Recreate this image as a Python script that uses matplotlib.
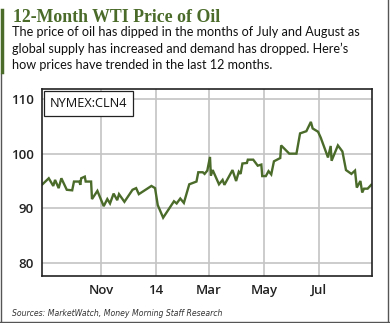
import matplotlib
matplotlib.use("Agg")
from matplotlib import pyplot as plt
import matplotlib.dates as mdates
import pandas as pd

# WTI front-month price
dates = ["2013-08-28", "2013-09-04", "2013-09-09", "2013-09-11", "2013-09-15",
         "2013-09-18", "2013-09-24", "2013-09-30", "2013-10-02", "2013-10-08",
         "2013-10-09", "2013-10-10", "2013-10-14", "2013-10-15", "2013-10-21",
         "2013-10-22", "2013-10-28", "2013-11-04", "2013-11-08", "2013-11-11",
         "2013-11-15", "2013-11-19", "2013-11-21", "2013-11-27", "2013-12-06",
         "2013-12-10", "2013-12-13", "2013-12-27", "2013-12-31", "2014-01-03",
         "2014-01-09", "2014-01-21", "2014-01-24", "2014-01-28", "2014-02-01",
         "2014-02-07", "2014-02-15", "2014-02-17", "2014-02-22", "2014-02-24",
         "2014-02-27", "2014-03-02", "2014-03-03", "2014-03-05", "2014-03-12",
         "2014-03-16", "2014-03-18", "2014-03-27", "2014-03-31", "2014-04-03",
         "2014-04-05", "2014-04-07", "2014-04-12", "2014-04-13", "2014-04-19",
         "2014-04-24", "2014-04-28", "2014-04-29", "2014-05-03", "2014-05-06",
         "2014-05-09", "2014-05-12", "2014-05-19", "2014-05-20", "2014-05-29",
         "2014-06-06", "2014-06-10", "2014-06-17", "2014-06-22", "2014-06-24",
         "2014-06-30", "2014-07-03", "2014-07-11", "2014-07-14", "2014-07-15",
         "2014-07-22", "2014-07-27", "2014-07-31", "2014-08-06", "2014-08-10",
         "2014-08-12", "2014-08-16", "2014-08-18", "2014-08-20", "2014-08-24",
         "2014-08-28"]
prices = [94.4, 95.5, 94.1, 95.2, 93.7,
          95.5, 93.4, 93.3, 94.9, 94.9,
          94.3, 95.5, 95.8, 94.9, 94.9,
          91.7, 93.2, 90.4, 91.7, 90.9,
          92.7, 91.5, 92.6, 91.2, 93.4,
          93.7, 92.6, 94.1, 93.7, 90.6,
          88.3, 91.3, 90.9, 91.8, 91.0,
          94.4, 94.9, 96.6, 96.6, 96.3,
          96.9, 99.4, 96.0, 97.0, 94.4,
          95.2, 94.3, 97.0, 95.0, 96.7,
          96.3, 98.2, 98.3, 98.9, 98.9,
          97.8, 98.0, 95.9, 95.9, 96.8,
          96.2, 98.6, 99.2, 101.5, 100.0,
          100.0, 103.7, 104.1, 105.8, 104.6,
          104.0, 102.9, 99.3, 101.4, 98.7,
          101.5, 100.4, 97.0, 96.3, 96.9,
          93.8, 95.0, 92.9, 93.6, 93.6,
          94.3]

title = "12-Month WTI Price of Oil"
subtitle = ("The price of oil has dipped in the months of July and August as\n"
            "global supply has increased and demand has dropped. Here\u2019s\n"
            "how prices have trended in the last 12 months.")
source = "Sources: MarketWatch, Money Morning Staff Research"
green = "#4a6b2a"

fig = plt.figure(figsize=(3.9, 3.23), dpi=100)
fig.patch.set_facecolor("white")

# outer frame and green accent bar
fig.add_artist(plt.Line2D([0.002, 0.002], [0.0, 0.77], transform=fig.transFigure, color="#555555", lw=1))
fig.add_artist(plt.Line2D([0.995, 0.995], [0.0, 1.0], transform=fig.transFigure, color="#555555", lw=1))
fig.add_artist(plt.Line2D([0.0, 1.0], [0.003, 0.003], transform=fig.transFigure, color="#555555", lw=1))
fig.add_artist(plt.Line2D([0.004, 0.004], [0.777, 0.969], transform=fig.transFigure, color=green, lw=2.5))

fig.text(0.034, 0.947, title, fontsize=12.8, fontweight="bold", color=green,
         family="Liberation Serif", va="center", ha="left")
fig.text(0.031, 0.918, subtitle, fontsize=9.1, color="#111111", family="Lato",
         va="top", ha="left", linespacing=1.38)
fig.text(0.031, 0.03, source, fontsize=5.6, style="italic", color="#333333",
         family="DejaVu Sans", va="center", ha="left")

ax = fig.add_axes([0.1077, 0.1464, 0.8453, 0.5796])
x = pd.to_datetime(dates)
ax.plot(x, prices, color=green, lw=1.7, solid_joinstyle="miter")

ax.set_xlim(pd.Timestamp("2013-08-27 12:00"), pd.Timestamp("2014-08-28 12:00"))
ax.set_ylim(77.7, 111.9)
ax.set_yticks([80, 90, 100, 110])
ax.xaxis.set_major_locator(mdates.MonthLocator(bymonth=[1, 3, 5, 7, 11]))
ax.xaxis.set_major_formatter(mdates.DateFormatter("%b"))
fig.canvas.draw()
labels = [("14" if t.get_text() == "Jan" else t.get_text()) for t in ax.get_xticklabels()]
ax.set_xticks(ax.get_xticks())
ax.set_xticklabels(labels)

ax.grid(True, color="#c4c4c4", lw=1.2)
ax.set_axisbelow(True)
ax.tick_params(length=0, pad=6, labelsize=9.5, colors="#222222")
for lab in ax.get_xticklabels() + ax.get_yticklabels():
    lab.set_family("Open Sans")
    lab.set_fontweight("semibold")
for s in ax.spines.values():
    s.set_color("#222222")
    s.set_linewidth(1.2)

ax.text(0.025, 0.955, "NYMEX:CLN4", transform=ax.transAxes, fontsize=9.2,
        family="Open Sans", va="top", ha="left", color="#111111",
        bbox=dict(boxstyle="square,pad=0.45", fc="white", ec="#222222", lw=0.9))

fig.savefig("out.png", dpi=100)
